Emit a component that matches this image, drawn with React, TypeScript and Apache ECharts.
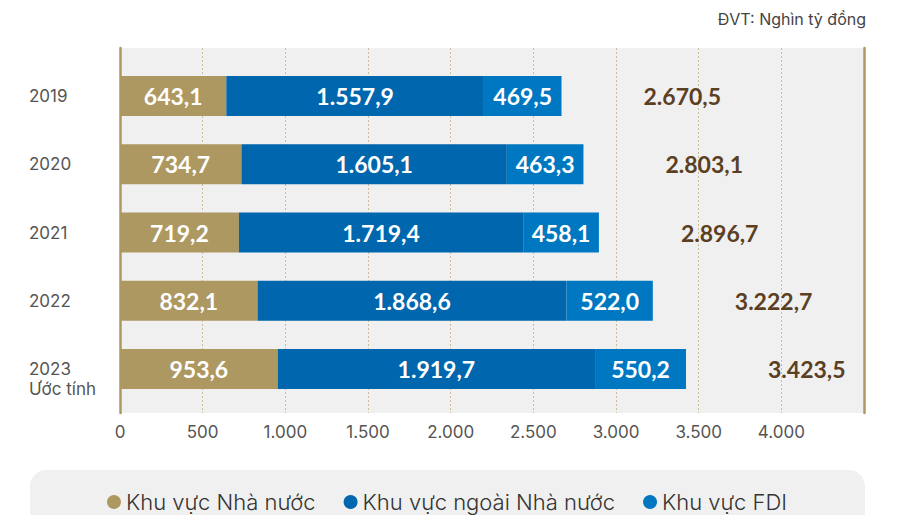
import React, { useEffect, useRef } from "react";
import * as echarts from "echarts";

const categories = ["2019", "2020", "2021", "2022", "2023\nƯớc tính"];
const stateSector = [643.1, 734.7, 719.2, 832.1, 953.6];
const nonStateSector = [1557.9, 1605.1, 1719.4, 1868.6, 1919.7];
const fdiSector = [469.5, 463.3, 458.1, 522.0, 550.2];
const totals = [2670.5, 2803.1, 2896.7, 3222.7, 3423.5];
const seriesNames = ["Khu vực Nhà nước", "Khu vực ngoài Nhà nước", "Khu vực FDI"];
const unitLabel = "ĐVT: Nghìn tỷ đồng";

const TAN = "#AE9862";
const BLUE = "#0066AD";
const FDI = "#0078C1";

function groupThousands(s: string) {
  return s.replace(/\B(?=(\d{3})+(?!\d))/g, ".");
}
function fmtValue(v: number) {
  const [i, d] = v.toFixed(1).split(".");
  return groupThousands(i) + "," + d;
}

export default function App() {
  const ref = useRef<HTMLDivElement>(null);
  useEffect(() => {
    if (!ref.current) return;
    const chart = echarts.init(ref.current, undefined, { renderer: "svg" });
    const barLabel = {
      show: true,
      position: "inside",
      color: "#fff",
      fontFamily: "Lato",
      fontWeight: "bold",
      fontSize: 23,
      formatter: (p: any) => fmtValue(p.value),
    };
    chart.setOption({
      animation: false,
      graphic: [
        {
          type: "rect",
          shape: { x: 30, y: 470, width: 835, height: 90, r: 16 },
          style: { fill: "#F0F0F0" },
          z: -10,
        },
        {
          type: "text",
          right: 34,
          top: 11,
          style: {
            text: unitLabel,
            fontFamily: "Inter",
            fontSize: 16,
            fill: "#444",
          },
        },
      ],
      legend: {
        data: seriesNames,
        left: 102,
        top: 486,
        icon: "circle",
        itemWidth: 14,
        itemHeight: 14,
        itemGap: 28,
        textStyle: {
          fontFamily: "Inter",
          fontWeight: 300,
          fontSize: 22,
          color: "#333",
        },
      },
      grid: [
        {
          left: 120,
          right: 36,
          top: 48,
          bottom: 102,
          show: true,
          backgroundColor: "#F0F0F0",
          borderWidth: 0,
        },
        { left: 120, right: 36, top: 62, bottom: 112 },
      ],
      xAxis: [
        {
          gridIndex: 0,
          type: "value",
          min: 0,
          max: 4500,
          interval: 500,
          axisLine: { show: false },
          axisTick: { show: false },
          axisLabel: {
            margin: 10,
            fontFamily: "Inter",
            fontSize: 17,
            color: "#555",
            formatter: (v: number) => (v >= 4500 ? "" : groupThousands(String(v))),
          },
          splitLine: {
            show: true,
            lineStyle: { color: "#CDBB9B", type: [2, 2], width: 1 },
          },
        },
        {
          gridIndex: 1,
          type: "value",
          min: 0,
          max: 4500,
          show: false,
          splitLine: { show: false },
        },
      ],
      yAxis: [
        {
          gridIndex: 0,
          type: "value",
          position: "left",
          min: 0,
          max: 1,
          axisLine: { show: true, onZero: false, lineStyle: { color: TAN, width: 2.5 } },
          axisLabel: { show: false },
          axisTick: { show: false },
          splitLine: { show: false },
        },
        {
          gridIndex: 0,
          type: "value",
          position: "right",
          min: 0,
          max: 1,
          axisLine: { show: true, onZero: false, lineStyle: { color: TAN, width: 2.5 } },
          axisLabel: { show: false },
          axisTick: { show: false },
          splitLine: { show: false },
        },
        {
          gridIndex: 1,
          type: "category",
          inverse: true,
          data: categories,
          axisLine: { show: false },
          axisTick: { show: false },
          axisLabel: {
            align: "left",
            margin: 91,
            fontFamily: "Inter",
            fontSize: 17,
            color: "#555",
            formatter: (v: string) => {
              const parts = v.split("\n");
              if (parts.length === 1) return "{y|" + v + "}";
              return "{e|}\n{y|" + parts[0] + "}\n{y|" + parts[1] + "}";
            },
            rich: {
              y: { fontFamily: "Inter", fontSize: 17, color: "#555", lineHeight: 20 },
              e: { fontSize: 17, lineHeight: 20 },
            },
          },
        },
      ],
      series: [
        {
          name: seriesNames[0],
          type: "bar",
          stack: "total",
          xAxisIndex: 1,
          yAxisIndex: 2,
          barWidth: 40,
          data: stateSector,
          itemStyle: { color: TAN },
          label: barLabel,
        },
        {
          name: seriesNames[1],
          type: "bar",
          stack: "total",
          xAxisIndex: 1,
          yAxisIndex: 2,
          barWidth: 40,
          data: nonStateSector,
          itemStyle: { color: BLUE },
          label: barLabel,
        },
        {
          name: seriesNames[2],
          type: "bar",
          stack: "total",
          xAxisIndex: 1,
          yAxisIndex: 2,
          barWidth: 40,
          data: fdiSector,
          itemStyle: { color: FDI },
          label: barLabel,
        },
        {
          name: "Tổng",
          type: "bar",
          xAxisIndex: 1,
          yAxisIndex: 2,
          barWidth: 40,
          barGap: "-100%",
          data: totals,
          silent: true,
          z: 1,
          itemStyle: { color: "rgba(0,0,0,0)" },
          label: {
            show: true,
            position: "right",
            distance: 82,
            color: "#5B3F22",
            fontFamily: "Lato",
            fontWeight: "bold",
            fontSize: 23,
            formatter: (p: any) => fmtValue(p.value),
          },
        },
      ],
    });
    return () => chart.dispose();
  }, []);
  return (
    <div
      ref={ref}
      style={{ position: "absolute", left: 0, top: 0, width: 900, height: 515 }}
    />
  );
}
